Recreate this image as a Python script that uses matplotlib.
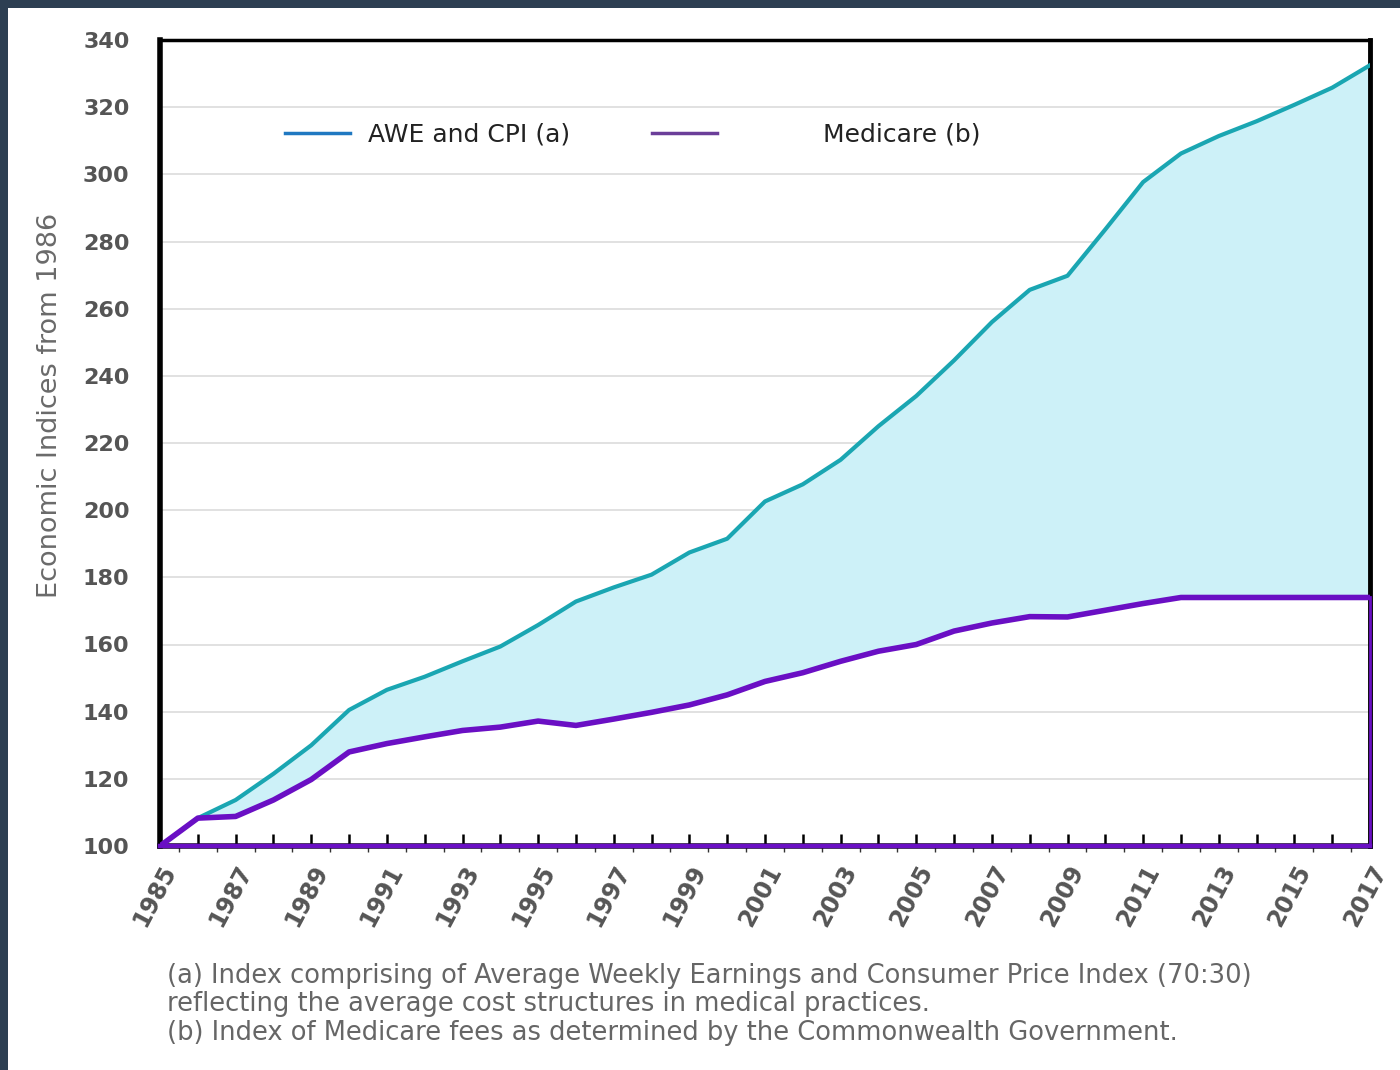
import numpy as np
import matplotlib
matplotlib.use("Agg")
import matplotlib.pyplot as plt
from matplotlib.lines import Line2D
from matplotlib.patches import Rectangle

# data
years = np.arange(1985, 2018)
awe = [100, 108.3, 113.7, 121.5, 130, 140.5, 146.5, 150.4, 155, 159.4,
       165.8, 172.8, 177, 180.8, 187.4, 191.5, 202.6, 207.7, 215, 225,
       234, 244.6, 256, 265.6, 269.8, 283.6, 297.7, 306.2, 311.4, 315.8,
       320.7, 325.8, 332.5]
medicare = [100, 108.3, 108.8, 113.7, 119.8, 128, 130.5, 132.5, 134.4, 135.4,
            137.2, 135.9, 137.8, 139.8, 142, 145, 149, 151.6, 155, 158,
            160, 164, 166.4, 168.3, 168.2, 170.2, 172.2, 174, 174, 174,
            174, 174, 174]
tick_years = np.arange(1985, 2018, 2)
y_ticks = np.arange(100, 341, 20)

awe_col = "#1aa6b2"
med_col = "#6a0fc4"
fill_col = "#cdf1f8"
label_col = "#555555"
foot_col = "#666666"

fig = plt.figure(figsize=(14, 10.7), dpi=100)
fig.patch.set_facecolor("white")

# navy frame strips at top and left
fig.patches.append(Rectangle((0, 1 - 8 / 1070), 1, 8 / 1070, transform=fig.transFigure,
                             facecolor="#2d3f52", edgecolor="none", zorder=0))
fig.patches.append(Rectangle((0, 0), 8 / 1400, 1, transform=fig.transFigure,
                             facecolor="#2d3f52", edgecolor="none", zorder=0))

ax = fig.add_axes([160 / 1400, 1 - 846 / 1070, 1210 / 1400, 806 / 1070])
ax.set_xlim(1985, 2017)
ax.set_ylim(100, 340)

# shaded gap between the two indices
ax.fill_between(years, medicare, awe, color=fill_col, zorder=1, linewidth=0)
ax.plot(years, awe, color=awe_col, linewidth=3, zorder=3, solid_joinstyle="round")
ax.plot(years, medicare, color=med_col, linewidth=4, zorder=4, solid_joinstyle="round")
# medicare outline closes along the base and right edge
ax.plot([years[0], years[-1]], [medicare[0], medicare[0]], color=med_col,
        linewidth=3, zorder=4, clip_on=False)
ax.plot([years[-1], years[-1]], [medicare[0], medicare[-1]], color=med_col,
        linewidth=2, zorder=4, clip_on=False)

# grid
ax.set_yticks(y_ticks)
ax.yaxis.grid(True, color="#dcdcdc", linewidth=1.2, zorder=0)
ax.set_axisbelow(True)

# spines
for side in ["left", "right", "top", "bottom"]:
    ax.spines[side].set_color("black")
ax.spines["left"].set_linewidth(4)
ax.spines["right"].set_linewidth(3.5)
ax.spines["top"].set_linewidth(2.5)
ax.spines["bottom"].set_linewidth(4)
ax.spines["bottom"].set_color("#1c0636")

# ticks
ax.set_xticks(years, minor=False)
ax.set_xticklabels([str(y) if y in tick_years else "" for y in years],
                   rotation=62, ha="right", va="top", rotation_mode="anchor",
                   fontsize=17, fontweight="bold", color=label_col)
ax.set_xticks(years[:-1] + 0.5, minor=True)
ax.tick_params(axis="x", which="major", direction="in", length=9, width=1.8,
               color="black", pad=11)
ax.tick_params(axis="x", which="minor", direction="out", length=4, width=1,
               color="#333333")
ax.tick_params(axis="y", length=0, pad=22)
for lbl in ax.get_yticklabels():
    lbl.set_fontsize(16)
    lbl.set_fontweight("bold")
    lbl.set_color(label_col)

ax.set_ylabel("Economic Indices from 1986", fontsize=19.5, color="#6a6a6a")
ax.yaxis.set_label_coords(-0.08, 0.547)

# legend
handles = [Line2D([], [], color="#1f78c1", linewidth=2.5),
           Line2D([], [], color="#6b3e99", linewidth=2.5)]
leg = ax.legend(handles, ["AWE and CPI (a)", "           Medicare (b)"],
                loc="upper left", bbox_to_anchor=(0.085, 0.925), ncol=2,
                frameon=False, fontsize=18, handlelength=2.6, handletextpad=0.7,
                columnspacing=3.3)
for t in leg.get_texts():
    t.set_color("#222222")

# footnotes
fig.text(167 / 1400, 1 - 1046 / 1070,
         "(a) Index comprising of Average Weekly Earnings and Consumer Price Index (70:30)\n"
         "reflecting the average cost structures in medical practices.\n"
         "(b) Index of Medicare fees as determined by the Commonwealth Government.",
         fontsize=18.5, color=foot_col, ha="left", va="bottom", linespacing=1.13)

fig.savefig("out.png", dpi=100)
